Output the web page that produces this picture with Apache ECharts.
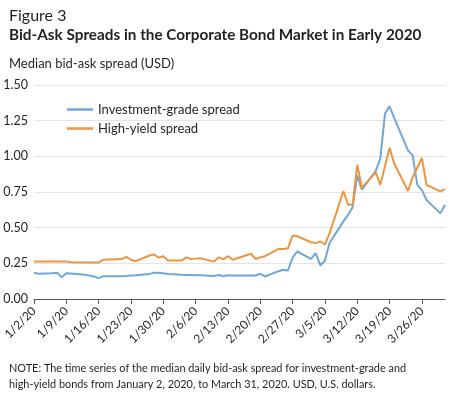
<!DOCTYPE html>
<html><head><meta charset="utf-8">
<script src="https://cdn.jsdelivr.net/npm/echarts@6/dist/echarts.min.js"></script>
<style>html,body{margin:0;padding:0;background:#fff}#c{width:449px;height:393px}</style>
</head><body><div id="c"></div>
<script>
const dates = ['1/2','1/3','1/6','1/7','1/8','1/9','1/10','1/13','1/14','1/15','1/16','1/17','1/21','1/22','1/23','1/24','1/27','1/28','1/29','1/30','1/31',
'2/3','2/4','2/5','2/6','2/7','2/10','2/11','2/12','2/13','2/14','2/18','2/19','2/20','2/21','2/24','2/25','2/26','2/27','2/28',
'3/2','3/3','3/4','3/5','3/6','3/9','3/10','3/11','3/12','3/13','3/16','3/17','3/18','3/19','3/20','3/23','3/24','3/25','3/26','3/27','3/30','3/31'];
const investmentGrade = [0.184,0.177,0.180,0.184,0.153,0.180,0.178,0.170,0.165,0.158,0.146,0.160,0.160,0.162,0.165,0.166,0.176,0.184,0.184,0.180,0.175,
0.170,0.169,0.168,0.167,0.166,0.162,0.168,0.160,0.166,0.165,0.165,0.165,0.177,0.158,0.195,0.205,0.200,0.290,0.333,
0.282,0.321,0.235,0.270,0.392,0.544,0.590,0.644,0.867,0.766,0.898,0.985,1.300,1.350,1.270,1.040,1.007,0.800,0.763,0.694,0.600,0.661];
const highYield = [0.263,0.263,0.262,0.262,0.262,0.262,0.258,0.256,0.256,0.256,0.256,0.275,0.280,0.295,0.275,0.265,0.305,0.312,0.290,0.300,0.270,
0.270,0.292,0.280,0.283,0.285,0.262,0.292,0.278,0.300,0.275,0.317,0.280,0.292,0.300,0.352,0.350,0.355,0.445,0.440,
0.398,0.392,0.403,0.382,0.460,0.757,0.661,0.661,0.942,0.780,0.888,0.800,0.930,1.060,0.950,0.757,0.853,0.920,0.988,0.800,0.754,0.770];
const tickLabels = ['1/2/20','1/9/20','1/16/20','1/23/20','1/30/20','2/6/20','2/13/20','2/20/20','2/27/20','3/5/20','3/12/20','3/19/20','3/26/20'];
const startDate = '1/2', endDate = '3/31';

function dayOffset(s){ const p=s.split('/').map(Number); return (Date.UTC(2020,p[0]-1,p[1])-Date.UTC(2020,0,2))/86400000; }
const tickVals = tickLabels.map(dayOffset);
const labelMap = {}; tickLabels.forEach((t,i)=>labelMap[tickVals[i]]=t);
const ig = dates.map((d,i)=>[dayOffset(d), investmentGrade[i]]);
const hy = dates.map((d,i)=>[dayOffset(d), highYield[i]]);

const FONT = 'Lato';
const TXT = '#231f20';
const chart = echarts.init(document.getElementById('c'), null, {renderer:'canvas'});
chart.setOption({
  animation:false,
  backgroundColor:'#fff',
  textStyle:{fontFamily:FONT,color:TXT},
  title:[
    {text:'Figure 3',left:4,top:3,textStyle:{fontFamily:FONT,fontWeight:'normal',fontSize:16,color:TXT}},
    {text:'Bid-Ask Spreads in the Corporate Bond Market in Early 2020',left:4,top:23,textStyle:{fontFamily:FONT,fontWeight:'bold',fontSize:15.3,color:TXT}},
    {text:'Median bid-ask spread (USD)',left:4,top:52,textStyle:{fontFamily:FONT,fontWeight:'normal',fontSize:13,color:TXT}},
    {text:'NOTE: The time series of the median daily bid-ask spread for investment-grade and\nhigh-yield bonds from January 2, 2020, to March 31, 2020. USD, U.S. dollars.',left:4,top:355,
     textStyle:{fontFamily:FONT,fontWeight:'normal',fontSize:10.9,lineHeight:16,color:TXT}}
  ],
  legend:{
    orient:'vertical',left:62,top:98,itemWidth:26,itemHeight:2.5,itemGap:6,icon:'rect',
    textStyle:{fontFamily:FONT,fontSize:13,color:TXT},
    data:['Investment-grade spread','High-yield spread']
  },
  grid:{left:34,right:4,top:85,bottom:94,containLabel:false},
  xAxis:{
    type:'value',min:dayOffset(startDate),max:dayOffset(endDate),
    axisLine:{show:true,lineStyle:{color:'#58595b',width:1}},
    axisTick:{show:true,customValues:tickVals,length:5,lineStyle:{color:'#58595b'}},
    axisLabel:{customValues:tickVals,rotate:45,margin:10,fontFamily:FONT,fontSize:12,color:TXT,formatter:v=>labelMap[v]||''},
    splitLine:{show:false}
  },
  yAxis:{
    type:'value',min:0,max:1.5,interval:0.25,
    axisLine:{show:false},axisTick:{show:false},
    axisLabel:{margin:6,fontFamily:FONT,fontSize:12.5,color:TXT,formatter:v=>v.toFixed(2)},
    splitLine:{lineStyle:{color:'#e3e4e5',width:1}}
  },
  series:[
    {name:'Investment-grade spread',type:'line',data:ig,symbol:'none',lineStyle:{color:'#6fa7d6',width:2},itemStyle:{color:'#6fa7d6'}},
    {name:'High-yield spread',type:'line',data:hy,symbol:'none',lineStyle:{color:'#ef9440',width:2},itemStyle:{color:'#ef9440'}}
  ]
});
</script></body></html>
